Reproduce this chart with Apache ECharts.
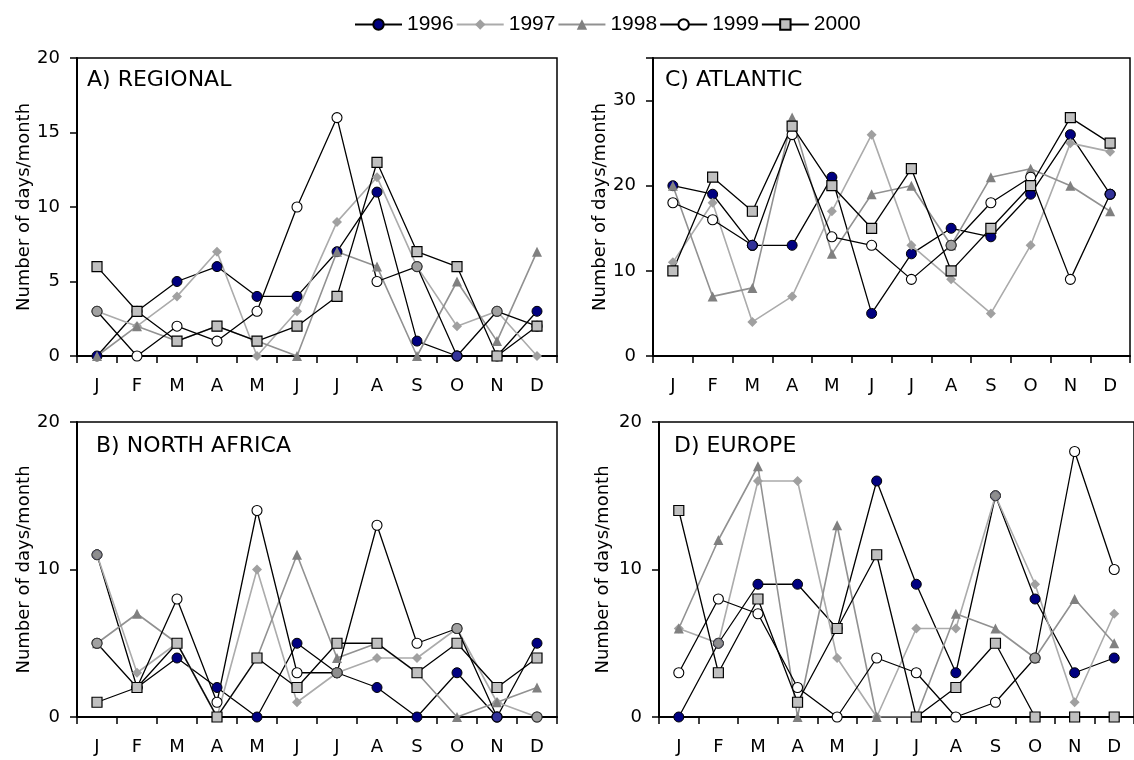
<!DOCTYPE html>
<html>
<head>
<meta charset="utf-8">
<script src="https://cdn.jsdelivr.net/npm/echarts@6/dist/echarts.min.js"></script>
<style>
  html, body { margin: 0; padding: 0; background: #ffffff; }
  #chart { width: 1134px; height: 760px; }
</style>
</head>
<body>
<div id="chart"></div>
<script>
// Month initials on every x axis
const months = ['J', 'F', 'M', 'A', 'M', 'J', 'J', 'A', 'S', 'O', 'N', 'D'];
const years = ['1996', '1997', '1998', '1999', '2000'];

// A) REGIONAL — days per month
const regional1996 = [0, 3, 5, 6, 4, 4, 7, 11, 1, 0, 0, 3];
const regional1997 = [3, 2, 4, 7, 0, 3, 9, 12, 6, 2, 3, 0];
const regional1998 = [0, 2, 1, 2, 1, 0, 7, 6, 0, 5, 1, 7];
const regional1999 = [3, 0, 2, 1, 3, 10, 16, 5, 6, 0, 3, 2];
const regional2000 = [6, 3, 1, 2, 1, 2, 4, 13, 7, 6, 0, 2];

// B) NORTH AFRICA
const northAfrica1996 = [11, 2, 4, 2, 0, 5, 3, 2, 0, 3, 0, 5];
const northAfrica1997 = [11, 3, 5, 0, 10, 1, 3, 4, 4, 6, 1, 0];
const northAfrica1998 = [5, 7, 5, 0, 4, 11, 4, 5, 3, 0, 1, 2];
const northAfrica1999 = [5, 2, 8, 1, 14, 3, 3, 13, 5, 6, 0, 0];
const northAfrica2000 = [1, 2, 5, 0, 4, 2, 5, 5, 3, 5, 2, 4];

// C) ATLANTIC
const atlantic1996 = [20, 19, 13, 13, 21, 5, 12, 15, 14, 19, 26, 19];
const atlantic1997 = [11, 18, 4, 7, 17, 26, 13, 9, 5, 13, 25, 24];
const atlantic1998 = [20, 7, 8, 28, 12, 19, 20, 13, 21, 22, 20, 17];
const atlantic1999 = [18, 16, 13, 26, 14, 13, 9, 13, 18, 21, 9, 19];
const atlantic2000 = [10, 21, 17, 27, 20, 15, 22, 10, 15, 20, 28, 25];

// D) EUROPE
const europe1996 = [0, 5, 9, 9, 6, 16, 9, 3, 15, 8, 3, 4];
const europe1997 = [6, 5, 16, 16, 4, 0, 6, 6, 15, 9, 1, 7];
const europe1998 = [6, 12, 17, 0, 13, 0, 0, 7, 6, 4, 8, 5];
const europe1999 = [3, 8, 7, 2, 0, 4, 3, 0, 1, 4, 18, 10];
const europe2000 = [14, 3, 8, 1, 6, 11, 0, 2, 5, 0, 0, 0];

// Y axis ranges and tick spacing per panel
const yMaxA = 20, yStepA = 5;
const yMaxB = 20, yStepB = 10;
const yMaxC = 35, yStepC = 10;
const yMaxD = 20, yStepD = 10;

const FONT = 'DejaVu Sans';

const panels = [
  { title: 'A) REGIONAL', data: [regional1996, regional1997, regional1998, regional1999, regional2000],
    grid: { left: 77, top: 58, width: 480, height: 298 }, titlePos: { left: 87, top: 69 },
    yMax: yMaxA, yStep: yStepA, nameGap: 43 },
  { title: 'C) ATLANTIC', data: [atlantic1996, atlantic1997, atlantic1998, atlantic1999, atlantic2000],
    grid: { left: 653, top: 58, width: 477, height: 298 }, titlePos: { left: 665, top: 69 },
    yMax: yMaxC, yStep: yStepC, nameGap: 41 },
  { title: 'B) NORTH AFRICA', data: [northAfrica1996, northAfrica1997, northAfrica1998, northAfrica1999, northAfrica2000],
    grid: { left: 77, top: 422, width: 480, height: 295 }, titlePos: { left: 96, top: 435 },
    yMax: yMaxB, yStep: yStepB, nameGap: 43 },
  { title: 'D) EUROPE', data: [europe1996, europe1997, europe1998, europe1999, europe2000],
    grid: { left: 659, top: 422, width: 477, height: 295 }, titlePos: { left: 674, top: 435 },
    yMax: yMaxD, yStep: yStepD, nameGap: 47 }
];

// Marker and line appearance for each year
const yearStyle = {
  '1996': { symbol: 'circle', size: 10, line: '#000000', fill: '#000080', border: '#000000', borderWidth: 1, lineWidth: 1.3 },
  '1997': { symbol: 'diamond', size: 10, line: '#ABABAB', fill: '#A0A0A0', border: '#A0A0A0', borderWidth: 0, lineWidth: 1.6 },
  '1998': { symbol: 'triangle', size: 10, line: '#919191', fill: '#808080', border: '#808080', borderWidth: 0, lineWidth: 1.6 },
  '1999': { symbol: 'circle', size: 10, line: '#000000', fill: '#FFFFFF', border: '#000000', borderWidth: 1.1, lineWidth: 1.3 },
  '2000': { symbol: 'rect', size: 10, line: '#000000', fill: '#C0C0C0', border: '#000000', borderWidth: 1.2, lineWidth: 1.3 }
};

const grids = [], xAxes = [], yAxes = [], titles = [], series = [];

function lineSeries(name, data, idx) {
  const s = yearStyle[name];
  return {
    name: name, type: 'line', xAxisIndex: idx, yAxisIndex: idx, data: data,
    symbol: s.symbol, symbolSize: s.size, showAllSymbol: true,
    lineStyle: { color: s.line, width: s.lineWidth },
    itemStyle: { color: s.fill, borderColor: s.border, borderWidth: s.borderWidth },
    emphasis: { disabled: true }, z: 2
  };
}

panels.forEach((p, idx) => {
  grids.push(Object.assign({ show: true, borderColor: '#000', borderWidth: 1.5, backgroundColor: 'transparent' }, p.grid));
  xAxes.push({
    type: 'category', gridIndex: idx, data: months, boundaryGap: true,
    axisLine: { lineStyle: { color: '#000', width: 2 } },
    axisTick: { show: true, inside: false, length: 7, lineStyle: { color: '#000', width: 1.5 } },
    axisLabel: { color: '#000', fontFamily: FONT, fontSize: 18, margin: 21, interval: 0 },
    splitLine: { show: false }
  });
  yAxes.push({
    type: 'value', gridIndex: idx, min: 0, max: p.yMax, interval: p.yStep,
    name: 'Number of days/month', nameLocation: 'middle', nameGap: p.nameGap,
    nameTextStyle: { color: '#000', fontFamily: FONT, fontSize: 18 },
    axisLine: { show: true, lineStyle: { color: '#000', width: 2 } },
    axisTick: { show: true, inside: false, length: 7, lineStyle: { color: '#000', width: 1.5 } },
    axisLabel: { color: '#000', fontFamily: FONT, fontSize: 18, margin: 17,
      formatter: v => (v % p.yStep === 0 ? String(v) : '') },
    splitLine: { show: false }
  });
  titles.push({
    text: p.title, left: p.titlePos.left, top: p.titlePos.top, padding: 0,
    textStyle: { color: '#000', fontFamily: FONT, fontSize: 22, fontWeight: 'normal' }
  });

  const [d96, d97, d98, d99, d00] = p.data;
  series.push(lineSeries('1996', d96, idx));
  series.push(lineSeries('1997', d97, idx));
  series.push(lineSeries('1998', d98, idx));
  series.push(lineSeries('1999', d99, idx));

  // Coinciding circle markers: a 1996 point under a 1999 point stays navy,
  // a circle sitting on a grey diamond/triangle point is drawn grey.
  const navyPts = [], greyPts = [];
  months.forEach((m, i) => {
    const greyHit = d96[i] === d97[i] || d99[i] === d97[i] || d99[i] === d98[i];
    if (d96[i] === d97[i]) greyPts.push([i, d96[i]]);
    if (d99[i] === d97[i] || d99[i] === d98[i]) greyPts.push([i, d99[i]]);
    if (d96[i] === d99[i] && !greyHit) navyPts.push([i, d96[i]]);
  });
  series.push({
    name: 'overlay-navy', type: 'scatter', xAxisIndex: idx, yAxisIndex: idx, data: navyPts,
    symbol: 'circle', symbolSize: 10,
    itemStyle: { color: '#000080', borderColor: '#000', borderWidth: 1 },
    emphasis: { disabled: true }, z: 2
  });
  series.push({
    name: 'overlay-grey', type: 'scatter', xAxisIndex: idx, yAxisIndex: idx, data: greyPts,
    symbol: 'circle', symbolSize: 10,
    itemStyle: { color: '#8A8A8A', borderColor: '#3A3A3A', borderWidth: 1 },
    emphasis: { disabled: true }, z: 2
  });

  series.push(lineSeries('2000', d00, idx));
});

const chart = echarts.init(document.getElementById('chart'), null, { renderer: 'canvas' });
chart.setOption({
  animation: false,
  backgroundColor: '#ffffff',
  title: titles,
  legend: {
    data: years, left: 349, top: 9, itemWidth: 47, itemHeight: 13, itemGap: 2,
    textStyle: { color: '#000', fontFamily: 'Liberation Sans', fontSize: 21 },
    selectedMode: false
  },
  grid: grids,
  xAxis: xAxes,
  yAxis: yAxes,
  series: series
});
</script>
</body>
</html>
